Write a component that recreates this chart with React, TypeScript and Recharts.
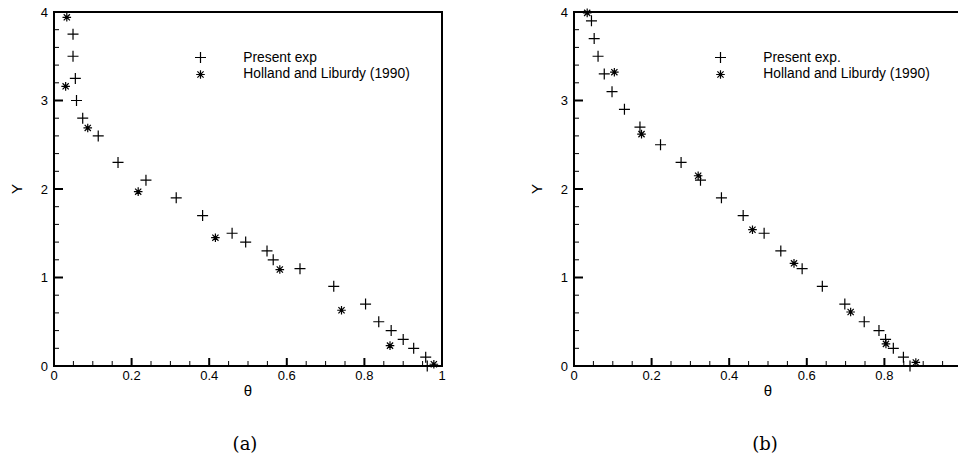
import React from "react";
import { ScatterChart, Scatter, XAxis, YAxis } from "recharts";

// ---- data ----
const leftPresentTheta = [0.049, 0.049, 0.055, 0.058, 0.074, 0.114, 0.165, 0.237, 0.315, 0.383, 0.459, 0.494, 0.549, 0.565, 0.634, 0.721, 0.803, 0.837, 0.869, 0.9, 0.927, 0.958, 0.962];
const leftPresentY = [3.75, 3.5, 3.25, 3.0, 2.8, 2.6, 2.3, 2.1, 1.9, 1.7, 1.5, 1.4, 1.3, 1.2, 1.1, 0.9, 0.7, 0.5, 0.4, 0.3, 0.2, 0.1, 0.0];
const leftHollandTheta = [0.033, 0.03, 0.087, 0.217, 0.416, 0.582, 0.741, 0.866, 0.979];
const leftHollandY = [3.94, 3.16, 2.69, 1.97, 1.45, 1.09, 0.63, 0.23, 0.02];

const rightPresentTheta = [0.045, 0.052, 0.062, 0.078, 0.098, 0.13, 0.17, 0.223, 0.276, 0.326, 0.38, 0.436, 0.49, 0.533, 0.588, 0.64, 0.698, 0.748, 0.786, 0.803, 0.823, 0.849, 0.866];
const rightPresentY = [3.9, 3.7, 3.5, 3.3, 3.1, 2.9, 2.7, 2.5, 2.3, 2.1, 1.9, 1.7, 1.5, 1.3, 1.1, 0.9, 0.7, 0.5, 0.4, 0.3, 0.2, 0.1, 0.0];
const rightHollandTheta = [0.034, 0.104, 0.174, 0.32, 0.46, 0.567, 0.713, 0.804, 0.881];
const rightHollandY = [3.99, 3.32, 2.62, 2.15, 1.54, 1.16, 0.61, 0.25, 0.04];

const xTicks = [0, 0.05, 0.1, 0.15, 0.2, 0.25, 0.3, 0.35, 0.4, 0.45, 0.5, 0.55, 0.6, 0.65, 0.7, 0.75, 0.8, 0.85, 0.9, 0.95, 1];
const xMajorLabels = ["0", "0.2", "0.4", "0.6", "0.8", "1"];
const yTicks = [0, 0.2, 0.4, 0.6, 0.8, 1, 1.2, 1.4, 1.6, 1.8, 2, 2.2, 2.4, 2.6, 2.8, 3, 3.2, 3.4, 3.6, 3.8, 4];
const yMajorLabels = ["0", "1", "2", "3", "4"];
const X_DOMAIN: [number, number] = [0, 1];
const Y_DOMAIN: [number, number] = [0, 4];

const zip = (xs: number[], ys: number[]) => xs.map((x, i) => ({ x, y: ys[i] }));

// ---- layout ----
const CHART_W = 480;
const CHART_H = 462;
const PLOT_LEFT = 54;
const PLOT_TOP = 12;
const PLOT_W = 388;
const PLOT_H = 354;
const Y_AXIS_W = 50;
const X_AXIS_H = 30;
const TICK_MARGIN_Y = 6;
const TICK_MARGIN_X = 5;
const SANS = '"Liberation Sans", Arial, Helvetica, sans-serif';

const isMajor = (v: number, step: number) => Math.abs(v / step - Math.round(v / step)) < 1e-6;
const xPix = (v: number) => PLOT_LEFT + ((v - X_DOMAIN[0]) / (X_DOMAIN[1] - X_DOMAIN[0])) * PLOT_W;
const yPix = (v: number) => PLOT_TOP + PLOT_H - ((v - Y_DOMAIN[0]) / (Y_DOMAIN[1] - Y_DOMAIN[0])) * PLOT_H;

const PlusShape = (props: any) => {
  const { cx, cy } = props;
  if (cx == null || cy == null) return null;
  const r = 5.5;
  return (
    <path d={`M${cx - r},${cy}H${cx + r}M${cx},${cy - r}V${cy + r}`} stroke="#000" strokeWidth={1.2} fill="none" />
  );
};

const StarShape = (props: any) => {
  const { cx, cy } = props;
  if (cx == null || cy == null) return null;
  const r = 4.3;
  const d = r * 0.72;
  return (
    <g>
      <path
        d={`M${cx - r},${cy}H${cx + r}M${cx},${cy - r}V${cy + r}M${cx - d},${cy - d}L${cx + d},${cy + d}M${cx - d},${cy + d}L${cx + d},${cy - d}`}
        stroke="#000"
        strokeWidth={1.2}
        fill="none"
      />
      <circle cx={cx} cy={cy} r={1.4} fill="#000" />
    </g>
  );
};

const YTick = (props: any) => {
  const { x, y, payload } = props;
  const v = payload.value as number;
  if (!isMajor(v, 1)) return <g />;
  return (
    <text x={x} y={y} dy="0.355em" textAnchor="end" fontFamily={SANS} fontSize={13} fill="#000">
      {yMajorLabels[Math.round(v)]}
    </text>
  );
};

const XTick = (props: any) => {
  const { x, y, payload } = props;
  const v = payload.value as number;
  if (!isMajor(v, 0.2)) return <g />;
  return (
    <text x={x} y={y} dy="0.71em" textAnchor="middle" fontFamily={SANS} fontSize={13} fill="#000">
      {xMajorLabels[Math.round(v / 0.2)]}
    </text>
  );
};

const Overlay = ({ legend1, caption }: { legend1: string; caption: string }) => {
  const mx = PLOT_LEFT + 146.5;
  const tx = PLOT_LEFT + 189.3;
  const bottom = PLOT_TOP + PLOT_H;
  return (
    <svg
      width={CHART_W}
      height={CHART_H}
      style={{ position: "absolute", left: 0, top: 0, pointerEvents: "none", overflow: "visible" }}
    >
      {yTicks.map((v) => {
        const major = isMajor(v, 1);
        const py = yPix(v);
        return (
          <line key={`y${v}`} x1={PLOT_LEFT} x2={PLOT_LEFT + (major ? 9 : 5)} y1={py} y2={py} stroke="#000" strokeWidth={major ? 2 : 1} />
        );
      })}
      {xTicks.map((v) => {
        const major = isMajor(v, 0.2);
        const px = xPix(v);
        return (
          <line key={`x${v}`} x1={px} x2={px} y1={bottom} y2={bottom - (major ? 8 : 5)} stroke="#000" strokeWidth={major ? 2 : 1} />
        );
      })}
      <rect x={PLOT_LEFT} y={PLOT_TOP} width={PLOT_W} height={PLOT_H} fill="none" stroke="#000" strokeWidth={2} />
      <PlusShape cx={mx} cy={57.5} />
      <StarShape cx={mx} cy={74.5} />
      <text x={tx} y={62.3} fontFamily={SANS} fontSize={13.8} fill="#000">{legend1}</text>
      <text x={tx} y={78.3} fontFamily={SANS} fontSize={13.8} fill="#000">Holland and Liburdy (1990)</text>
      <text x={PLOT_LEFT + 194} y={391} dy="0.35em" textAnchor="middle" fontFamily={SANS} fontSize={15} fill="#000">θ</text>
      <text
        x={PLOT_LEFT - 37}
        y={189}
        transform={`rotate(-90 ${PLOT_LEFT - 37} 189)`}
        dy="0.35em"
        textAnchor="middle"
        fontFamily={SANS}
        fontSize={15}
        fill="#000"
      >
        Y
      </text>
      <text x={PLOT_LEFT + 191} y={449.5} textAnchor="middle" fontFamily='"DejaVu Serif", serif' fontSize={18} fill="#000">
        {caption}
      </text>
    </svg>
  );
};

const Panel = ({ present, holland, legend1, caption, left }: any) => (
  <div style={{ position: "absolute", left, top: 0, width: CHART_W, height: CHART_H }}>
    <ScatterChart
      width={CHART_W}
      height={CHART_H}
      margin={{
        top: PLOT_TOP,
        left: PLOT_LEFT - Y_AXIS_W,
        right: CHART_W - PLOT_LEFT - PLOT_W,
        bottom: CHART_H - PLOT_TOP - PLOT_H - X_AXIS_H,
      }}
    >
      <XAxis
        type="number"
        dataKey="x"
        domain={X_DOMAIN}
        ticks={xTicks}
        interval={0}
        height={X_AXIS_H}
        tickSize={0}
        tickMargin={TICK_MARGIN_X}
        axisLine={false}
        tickLine={false}
        tick={XTick}
      />
      <YAxis
        type="number"
        dataKey="y"
        domain={Y_DOMAIN}
        ticks={yTicks}
        interval={0}
        width={Y_AXIS_W}
        tickSize={0}
        tickMargin={TICK_MARGIN_Y}
        axisLine={false}
        tickLine={false}
        tick={YTick}
      />
      <Scatter data={present} shape={<PlusShape />} isAnimationActive={false} />
      <Scatter data={holland} shape={<StarShape />} isAnimationActive={false} />
    </ScatterChart>
    <Overlay legend1={legend1} caption={caption} />
  </div>
);

export default function App() {
  return (
    <div style={{ position: "fixed", left: 0, top: 0, width: 958, height: 462, overflow: "hidden", background: "#fff" }}>
      <Panel
        left={0}
        present={zip(leftPresentTheta, leftPresentY)}
        holland={zip(leftHollandTheta, leftHollandY)}
        legend1="Present exp"
        caption="(a)"
      />
      <Panel
        left={520}
        present={zip(rightPresentTheta, rightPresentY)}
        holland={zip(rightHollandTheta, rightHollandY)}
        legend1="Present exp."
        caption="(b)"
      />
    </div>
  );
}
